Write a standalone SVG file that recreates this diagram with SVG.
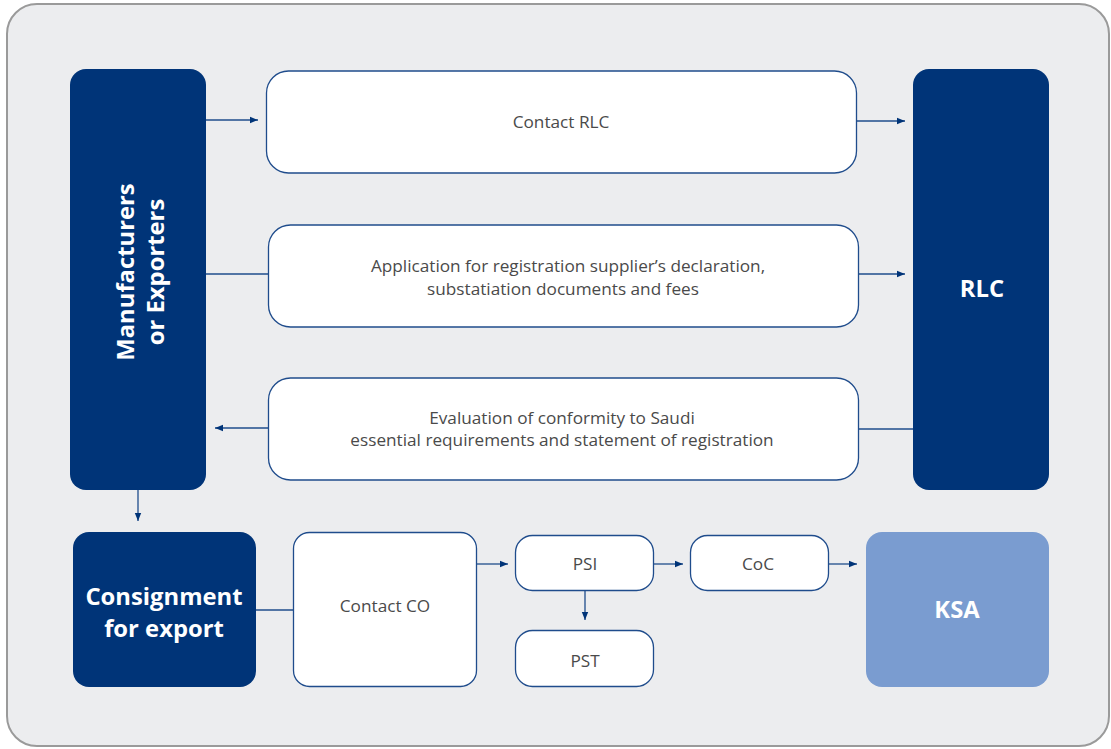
<svg xmlns="http://www.w3.org/2000/svg" width="1111" height="749" viewBox="0 0 1111 749">
<defs>
<style>
.dark{fill:#003478;}
.light{fill:#7A9CD0;}
.box{fill:#ffffff;stroke:#1F4C8C;stroke-width:1.3;}
.t{font-family:"Open Sans","Liberation Sans",sans-serif;font-size:17.2px;fill:#4a4a4a;text-anchor:middle;}
.b{font-family:"Open Sans","Liberation Sans",sans-serif;font-size:23.8px;font-weight:bold;fill:#ffffff;text-anchor:middle;}
.c{stroke:#1F4C8C;stroke-width:1.3;fill:none;}
</style>
<marker id="ah" viewBox="0 0 10 10" refX="10" refY="5" markerWidth="8" markerHeight="8" markerUnits="userSpaceOnUse" orient="auto">
<path d="M0,1 L10,5 L0,9 z" fill="#003478"/>
</marker>
</defs>
<rect x="7" y="4" width="1102" height="742" rx="30" fill="#ECEDEF" stroke="#9A9A9A" stroke-width="2"/>
<g id="connectors">
<line class="c" x1="206" y1="120" x2="258" y2="120" marker-end="url(#ah)"/>
<line class="c" x1="857" y1="121" x2="905" y2="121" marker-end="url(#ah)"/>
<line class="c" x1="206" y1="274" x2="268" y2="274"/>
<line class="c" x1="859" y1="274" x2="905" y2="274" marker-end="url(#ah)"/>
<line class="c" x1="859" y1="429" x2="913" y2="429"/>
<line class="c" x1="268" y1="428" x2="215" y2="428" marker-end="url(#ah)"/>
<line class="c" x1="138" y1="490" x2="138" y2="521" marker-end="url(#ah)"/>
<line class="c" x1="256" y1="610" x2="293" y2="610"/>
<line class="c" x1="477" y1="564" x2="508" y2="564" marker-end="url(#ah)"/>
<line class="c" x1="654" y1="564" x2="683" y2="564" marker-end="url(#ah)"/>
<line class="c" x1="828" y1="564" x2="857" y2="564" marker-end="url(#ah)"/>
<line class="c" x1="585" y1="591" x2="585" y2="620" marker-end="url(#ah)"/>
</g>
<g id="manufacturers">
<rect class="dark" x="70" y="69" width="136" height="421" rx="16"/>
<text class="b" transform="translate(134,272) rotate(-90)">Manufacturers</text>
<text class="b" transform="translate(164,272) rotate(-90)">or Exporters</text>
</g>
<g id="rlc">
<rect class="dark" x="913" y="69" width="136" height="421" rx="16"/>
<text class="b" x="982" y="297">RLC</text>
</g>
<g id="contact-rlc">
<rect class="box" x="266.5" y="71" width="590" height="102" rx="22"/>
<text class="t" x="561" y="128">Contact RLC</text>
</g>
<g id="application">
<rect class="box" x="268.5" y="225" width="590" height="102" rx="22"/>
<text class="t" x="568" y="272">Application for registration supplier’s declaration,</text>
<text class="t" x="563" y="295">substatiation documents and fees</text>
</g>
<g id="evaluation">
<rect class="box" x="268.5" y="378" width="590" height="102" rx="22"/>
<text class="t" x="562" y="424">Evaluation of conformity to Saudi</text>
<text class="t" x="562" y="446">essential requirements and statement of registration</text>
</g>
<g id="consignment">
<rect class="dark" x="73" y="532" width="183" height="155" rx="16"/>
<text class="b" x="164" y="605">Consignment</text>
<text class="b" x="164" y="637">for export</text>
</g>
<g id="contact-co">
<rect class="box" x="293.5" y="532.5" width="183" height="154" rx="16"/>
<text class="t" x="385" y="612">Contact CO</text>
</g>
<g id="psi">
<rect class="box" x="515.5" y="535.5" width="138" height="55" rx="17"/>
<text class="t" x="585" y="570">PSI</text>
</g>
<g id="pst">
<rect class="box" x="515.5" y="630.5" width="138" height="56" rx="17"/>
<text class="t" x="585" y="667">PST</text>
</g>
<g id="coc">
<rect class="box" x="690.5" y="535.5" width="138" height="55" rx="17"/>
<text class="t" x="758" y="570">CoC</text>
</g>
<g id="ksa">
<rect class="light" x="866" y="532" width="183" height="155" rx="16"/>
<text class="b" x="957" y="618">KSA</text>
</g>
</svg>
